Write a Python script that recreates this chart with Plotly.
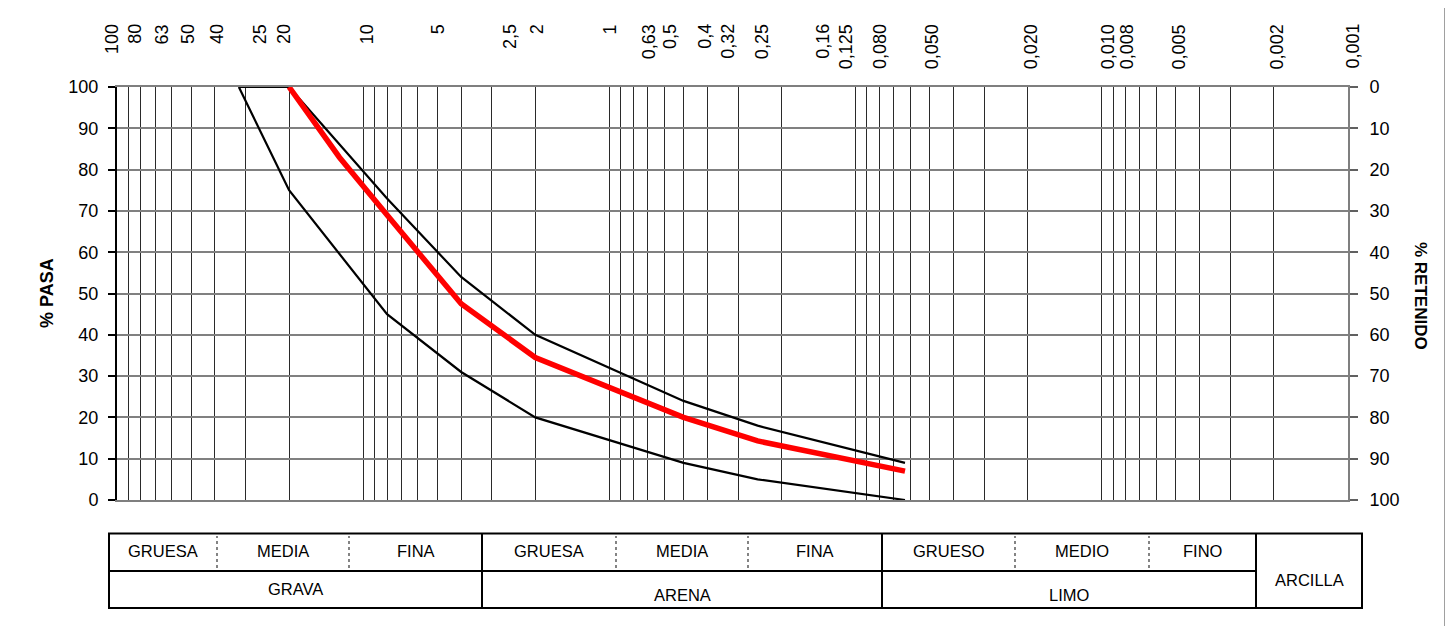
import math
import plotly.graph_objects as go

# ---------------- data ----------------
sieve_sizes = [100, 80, 63, 50, 40, 25, 20, 10, 5, 2.5, 2, 1, 0.63, 0.5, 0.4, 0.32,
               0.25, 0.16, 0.125, 0.080, 0.050, 0.020, 0.010, 0.008, 0.005, 0.002, 0.001]
sieve_labels = ["100", "80", "63", "50", "40", "25", "20", "10", "5", "2,5", "2", "1",
                "0,63", "0,5", "0,4", "0,32", "0,25", "0,16", "0,125", "0,080", "0,050",
                "0,020", "0,010", "0,008", "0,005", "0,002", "0,001"]

upper_size = [32, 20, 8, 4, 2, 0.5, 0.25, 0.063]
upper_pass = [100, 100, 73, 54, 40, 24, 18, 9]

lower_size = [32, 20, 8, 4, 2, 0.5, 0.25, 0.063]
lower_pass = [100, 75, 45, 31, 20, 9, 5, 0]

sample_size = [20, 12.5, 8, 4, 2, 0.5, 0.25, 0.063]
sample_pass = [100, 83, 69, 47.5, 34.5, 20, 14.3, 7]

pasa_ticks = [0, 10, 20, 30, 40, 50, 60, 70, 80, 90, 100]

# classification table (texts)
sub_labels = ["GRUESA", "MEDIA", "FINA", "GRUESA", "MEDIA", "FINA", "GRUESO", "MEDIO", "FINO"]
main_labels = ["GRAVA", "ARENA", "LIMO"]
clay_label = "ARCILLA"

# ---------------- layout helpers (screen pixel geometry) ----------------
OFF = 8                      # page body margin
FW, FH = 1453 - OFF, 626 - OFF
PX0, PX1 = 117, 1348         # plot area, screen px
PY0, PY1 = 87, 500


def px(x):
    return (x - PX0) / (PX1 - PX0)


def py(y):
    return (PY1 - y) / (PY1 - PY0)


# gridline values: 1..9 x 10^k from 0.001 to 100
grid_vals = []
for k in range(-3, 2):
    for d in range(1, 10):
        grid_vals.append(d * 10 ** k)
grid_vals.append(100)

# small label nudges (as drawn in the original sheet)
label_xshift = [-5, -6, -4, -3, 2, -5, -5, 4, 1, -1, 2, 1, -9, -13, -2, -3, 5, 18, 15, 1, 3, 4, 7, 2, 4, 4, 5]

fig = go.Figure()

fig.add_trace(go.Scatter(x=upper_size, y=upper_pass, mode="lines",
                         line=dict(color="black", width=2.2), showlegend=False, hoverinfo="skip"))
fig.add_trace(go.Scatter(x=lower_size, y=lower_pass, mode="lines",
                         line=dict(color="black", width=2.2), showlegend=False, hoverinfo="skip"))
fig.add_trace(go.Scatter(x=sample_size, y=sample_pass, mode="lines",
                         line=dict(color="#ff0000", width=5.5), showlegend=False))
# retained axis carrier
fig.add_trace(go.Scatter(x=sample_size, y=[100 - v for v in sample_pass], yaxis="y2",
                         mode="lines", line=dict(width=0, color="rgba(0,0,0,0)"),
                         showlegend=False, hoverinfo="skip"))

tick_font = dict(family="Liberation Sans, Arial, sans-serif", size=18, color="black")

fig.update_layout(
    width=FW, height=FH,
    margin=dict(l=PX0 - OFF, r=FW - (PX1 - OFF), t=PY0 - OFF, b=FH - (PY1 - OFF), pad=0),
    paper_bgcolor="white", plot_bgcolor="white",
    xaxis=dict(type="log", range=[2, -3], tickvals=grid_vals, showticklabels=False,
               ticks="", showgrid=True, gridcolor="#2a2a2a", gridwidth=1,
               showline=True, mirror=True, linecolor="#7f7f7f", linewidth=2,
               zeroline=False, fixedrange=True),
    yaxis=dict(range=[0, 100], tickvals=pasa_ticks, ticks="outside", ticklen=7,
               tickcolor="black", tickwidth=1.5, tickfont=tick_font,
               showgrid=True, gridcolor="#808080", gridwidth=1.5,
               showline=True, linecolor="black", linewidth=2, zeroline=False,
               ticklabelstandoff=6),
    yaxis2=dict(range=[100, 0], tickvals=pasa_ticks, overlaying="y", side="right",
                anchor="x", ticks="outside", ticklen=8, tickcolor="#606060", tickwidth=1.5,
                tickfont=tick_font, showgrid=False, showline=True, linecolor="#7f7f7f",
                linewidth=2, zeroline=False, ticklabelstandoff=8),
)

annotations = []
for v, lab, dx in zip(sieve_sizes, sieve_labels, label_xshift):
    annotations.append(dict(x=math.log10(v), xref="x", y=py(22), yref="paper",
                            text=lab, showarrow=False, textangle=-90,
                            xanchor="center", yanchor="top", xshift=dx,
                            font=tick_font))

annotations.append(dict(x=px(47), y=py(293), xref="paper", yref="paper", text="<b>% PASA</b>",
                        showarrow=False, textangle=-90, xanchor="center", yanchor="middle",
                        font=dict(family="Liberation Sans, Arial, sans-serif", size=18, color="black")))
annotations.append(dict(x=px(1421), y=py(296), xref="paper", yref="paper", text="<b>% RETENIDO</b>",
                        showarrow=False, textangle=90, xanchor="center", yanchor="middle",
                        font=dict(family="Liberation Sans, Arial, sans-serif", size=17, color="black")))

# ---------------- classification table ----------------
T_TOP, T_MID, T_BOT = 533.5, 571, 608
T_L, T_R = 109, 1362
major_x = [482, 882, 1256]
dotted_x = [217, 349, 616, 748, 1015, 1149]
sub_edges = [109, 217, 349, 482, 616, 748, 882, 1015, 1149, 1256]
main_edges = [109, 482, 882, 1256]
main_y = [589, 595, 595]

shapes = []
line_black = dict(color="black", width=2)
shapes.append(dict(type="rect", xref="paper", yref="paper", x0=px(T_L), x1=px(T_R),
                   y0=py(T_BOT), y1=py(T_TOP), line=line_black))
for xv in major_x:
    shapes.append(dict(type="line", xref="paper", yref="paper", x0=px(xv), x1=px(xv),
                       y0=py(T_BOT), y1=py(T_TOP), line=line_black))
shapes.append(dict(type="line", xref="paper", yref="paper", x0=px(T_L), x1=px(1256),
                   y0=py(T_MID), y1=py(T_MID), line=line_black))
for xv in dotted_x:
    shapes.append(dict(type="line", xref="paper", yref="paper", x0=px(xv), x1=px(xv),
                       y0=py(568), y1=py(536), line=dict(color="#333333", width=1.2, dash="dot")))

# outer frame (top and right edges visible)
frame_line = dict(color="#808080", width=1.5)
shapes.append(dict(type="line", xref="paper", yref="paper", x0=px(8), x1=px(1445),
                   y0=py(7), y1=py(7), line=frame_line))
shapes.append(dict(type="line", xref="paper", yref="paper", x0=px(1445), x1=px(1445),
                   y0=py(7), y1=py(640), line=frame_line))

table_font = dict(family="Liberation Sans, Arial, sans-serif", size=16.5, color="black")
for i, lab in enumerate(sub_labels):
    cx = (sub_edges[i] + sub_edges[i + 1]) / 2
    annotations.append(dict(x=px(cx), y=py(551), xref="paper", yref="paper", text=lab,
                            showarrow=False, xanchor="center", yanchor="middle", font=table_font))
for i, lab in enumerate(main_labels):
    cx = (main_edges[i] + main_edges[i + 1]) / 2
    annotations.append(dict(x=px(cx), y=py(main_y[i]), xref="paper", yref="paper", text=lab,
                            showarrow=False, xanchor="center", yanchor="middle", font=table_font))
annotations.append(dict(x=px((1256 + T_R) / 2), y=py(580), xref="paper", yref="paper",
                        text=clay_label, showarrow=False, xanchor="center", yanchor="middle",
                        font=table_font))

fig.update_layout(annotations=annotations, shapes=shapes)

fig.write_html("out.html")
